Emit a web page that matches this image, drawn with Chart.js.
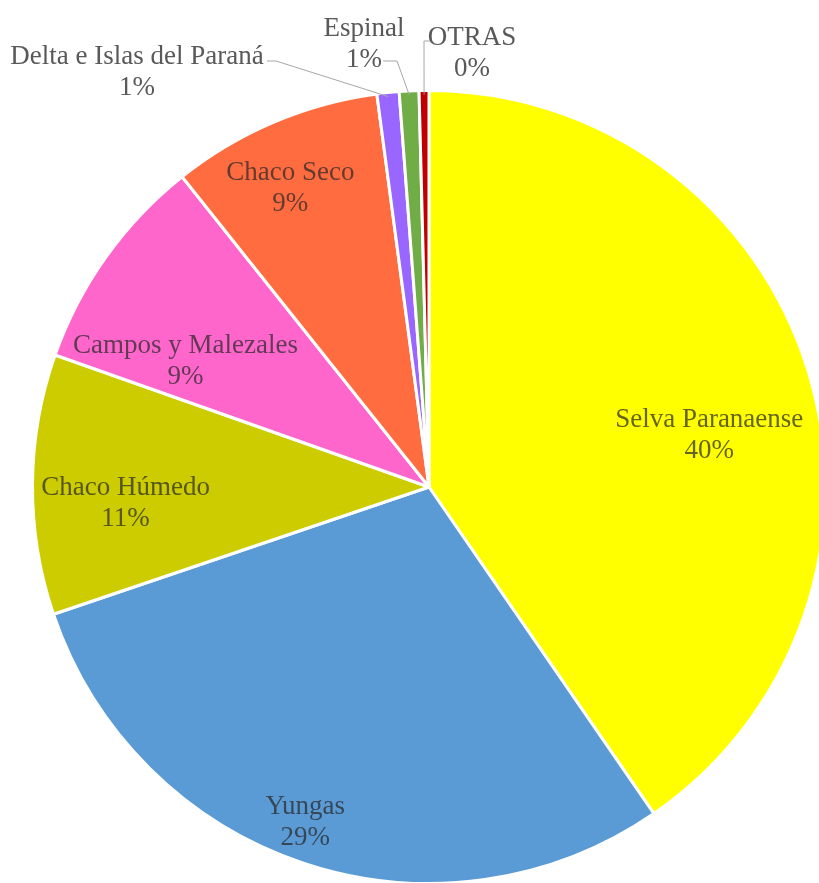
<!DOCTYPE html>
<html>
<head>
<meta charset="utf-8">
<script src="https://cdn.jsdelivr.net/npm/chart.js@4/dist/chart.umd.min.js"></script>
<style>
  html, body { margin: 0; padding: 0; background: #fff; overflow: hidden; }
  #contenedor { position: absolute; left: 0; top: 0; width: 860px; height: 900px; }
  #precarga { position: absolute; left: -2000px; top: 0; font: 27px "Liberation Serif"; }
</style>
</head>
<body>
<span id="precarga">Delta e Islas del Paraná 0123456789%</span>
<div id="contenedor"><canvas id="grafico" width="860" height="900"></canvas></div>
<script>
const ecorregiones = [
  "Selva Paranaense",
  "Yungas",
  "Chaco Húmedo",
  "Campos y Malezales",
  "Chaco Seco",
  "Delta e Islas del Paraná",
  "Espinal",
  "OTRAS",
];
const porcentajes = [40.4, 29.4, 10.6, 8.9, 8.6, 0.9, 0.8, 0.4];
const colores = [
  "#ffff00",
  "#5b9bd5",
  "#cccc00",
  "#ff66cc",
  "#ff6c40",
  "#9966ff",
  "#70ad47",
  "#c00000",
];

// ubicación de las etiquetas respecto del centro de la torta:
// dentro del sector (ángulo desde arriba en grados, fracción del radio)
// o afuera, con desplazamiento del texto y el quiebre de la línea guía
const ubicaciones = [
  { ang: 79, r: 0.72 },
  { ang: 200.4, r: 0.895 },
  { ang: 267.5, r: 0.766 },
  { ang: 297.9, r: 0.695 },
  { ang: 335.3, r: 0.837 },
  { dx: -292, dy: -418, guia: [[-162, -426], [-153, -426]] },
  { dx: -65, dy: -446, guia: [[-46, -426], [-32, -426]] },
  { dx: 43, dy: -437, guia: [[1, -446], [-5, -446]] },
];

const fuente = '27px "Liberation Serif"';

const etiquetas = {
  id: "etiquetas",
  afterDraw(chart) {
    const ctx = chart.ctx;
    const meta = chart.getDatasetMeta(0);
    const total = porcentajes.reduce((a, b) => a + b, 0);
    ctx.save();
    ctx.font = fuente;
    ctx.textAlign = "center";
    ctx.textBaseline = "middle";
    meta.data.forEach((arc, i) => {
      const p = arc.getProps(["x", "y", "startAngle", "endAngle", "outerRadius"], true);
      const u = ubicaciones[i];
      const texto = Math.round((porcentajes[i] / total) * 100) + "%";
      let tx, ty;
      if (u.guia) {
        const medio = (p.startAngle + p.endAngle) / 2;
        ctx.strokeStyle = "#a6a6a6";
        ctx.lineWidth = 1;
        ctx.beginPath();
        ctx.moveTo(p.x + u.guia[0][0], p.y + u.guia[0][1]);
        ctx.lineTo(p.x + u.guia[1][0], p.y + u.guia[1][1]);
        ctx.lineTo(p.x + Math.cos(medio) * (p.outerRadius - 4), p.y + Math.sin(medio) * (p.outerRadius - 4));
        ctx.stroke();
        tx = p.x + u.dx;
        ty = p.y + u.dy;
        ctx.fillStyle = "#595959";
      } else {
        const a = (u.ang * Math.PI) / 180;
        tx = p.x + Math.sin(a) * u.r * p.outerRadius;
        ty = p.y - Math.cos(a) * u.r * p.outerRadius;
        ctx.fillStyle = "rgba(40, 40, 40, 0.72)";
      }
      // nombre arriba, porcentaje abajo
      ctx.fillText(ecorregiones[i], tx, ty - 12.5);
      ctx.fillText(texto, tx, ty + 18.5);
    });
    ctx.restore();
  },
};

function dibujar() {
  const ctx = document.getElementById("grafico").getContext("2d");
  new Chart(ctx, {
    type: "pie",
    data: {
      labels: ecorregiones,
      datasets: [
        {
          data: porcentajes,
          backgroundColor: colores,
          borderColor: "#ffffff",
          borderWidth: 3,
        },
      ],
    },
    options: {
      responsive: false,
      animation: false,
      devicePixelRatio: 1,
      layout: { padding: { left: 31, right: 33, top: 89, bottom: 15 } },
      plugins: {
        legend: { display: false },
        tooltip: { enabled: false },
      },
    },
    plugins: [etiquetas],
  });
}

window.addEventListener("load", dibujar);
</script>
</body>
</html>
